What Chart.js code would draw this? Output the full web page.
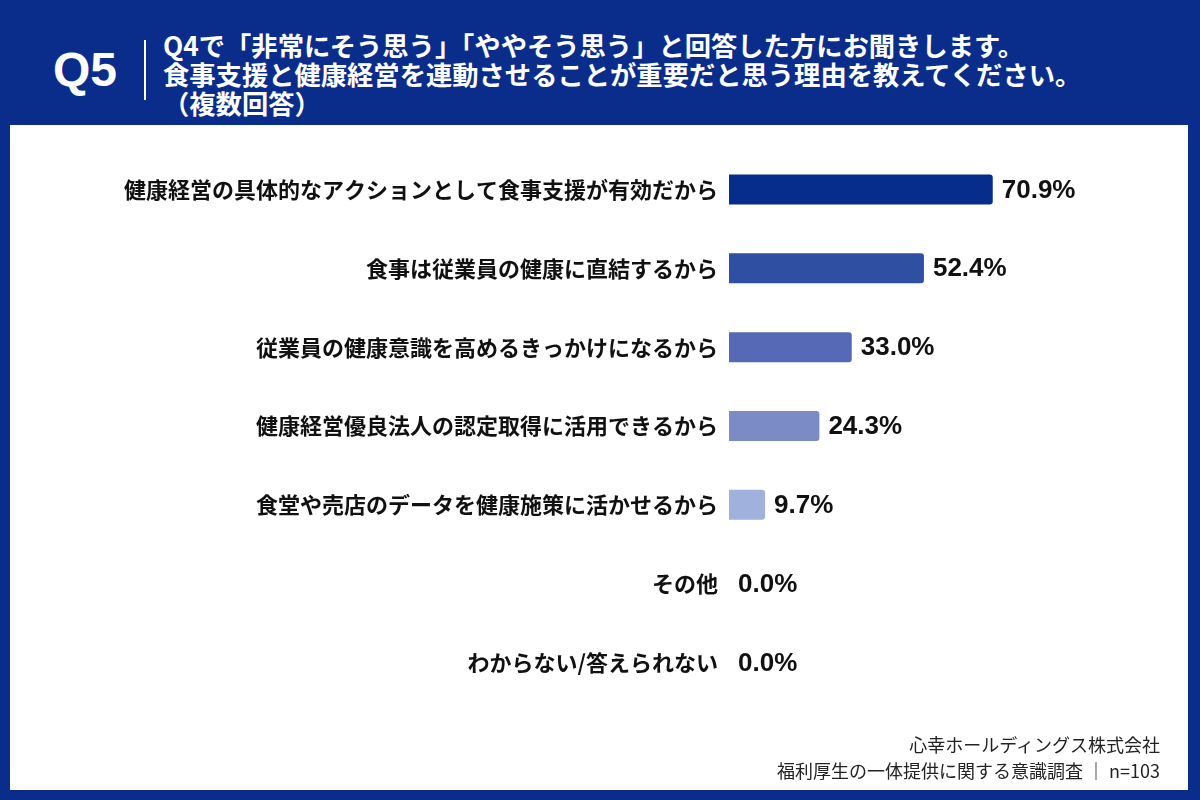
<!DOCTYPE html>
<html lang="ja">
<head>
<meta charset="UTF-8">
<title>Q5</title>
<script src="https://cdn.jsdelivr.net/npm/chart.js"></script>
<style>
  html, body { margin: 0; padding: 0; }
  body {
    width: 1200px; height: 800px; background: #0a2d8c; position: relative; overflow: hidden;
    font-family: "Noto Sans CJK JP", "Noto Sans", sans-serif;
  }
  #qno { position: absolute; left: 53px; top: 42px; color: #fff; font: bold 48px "Liberation Sans", Arial, sans-serif; }
  #bar { position: absolute; left: 144px; top: 40px; width: 2px; height: 60px; background: #fff; }
  #title { position: absolute; left: 163px; top: 30px; color: #fff; font-weight: bold; font-size: 26.3px; line-height: 29px; }
  #panel { position: absolute; left: 10px; top: 125px; width: 1178px; height: 665px; background: #fff; }
  #credit { position: absolute; right: 40px; top: 731px; text-align: right; color: #222; font-size: 18px; line-height: 26px; }
</style>
</head>
<body>
<div id="qno">Q5</div>
<div id="bar"></div>
<div id="title">Q4で「非常にそう思う」「ややそう思う」と回答した方にお聞きします。<br>食事支援と健康経営を連動させることが重要だと思う理由を教えてください。<br>（複数回答）</div>
<div id="panel"><canvas id="chart" width="1178" height="665"></canvas></div>
<div id="credit">心幸ホールディングス株式会社<br>福利厚生の一体提供に関する意識調査 ｜ n=103</div>
<script>
const categories = [
  '健康経営の具体的なアクションとして食事支援が有効だから',
  '食事は従業員の健康に直結するから',
  '従業員の健康意識を高めるきっかけになるから',
  '健康経営優良法人の認定取得に活用できるから',
  '食堂や売店のデータを健康施策に活かせるから',
  'その他',
  'わからない/答えられない'
];
const values = [70.9, 52.4, 33.0, 24.3, 9.7, 0.0, 0.0];
const barColors = ['#062c8c', '#2f4fa3', '#5569b7', '#7b8bc6', '#a1b1de', '#a1b1de', '#a1b1de'];

const valueLabels = {
  id: 'valueLabels',
  afterDatasetsDraw(chart) {
    const ctx = chart.ctx;
    const meta = chart.getDatasetMeta(0);
    ctx.save();
    ctx.font = 'bold 26px "Liberation Sans", Arial, sans-serif';
    ctx.fillStyle = '#111';
    ctx.textBaseline = 'middle';
    meta.data.forEach((bar, i) => {
      ctx.fillText(values[i].toFixed(1) + '%', bar.x + 9, bar.y + 1);
    });
    ctx.restore();
  }
};

new Chart(document.getElementById('chart'), {
  type: 'bar',
  data: {
    labels: categories,
    datasets: [{
      data: values,
      backgroundColor: barColors,
      borderRadius: 3,
      borderSkipped: 'start',
      barPercentage: 0.76,
      categoryPercentage: 0.5
    }]
  },
  options: {
    indexAxis: 'y',
    responsive: false,
    animation: false,
    layout: { padding: { top: 25, bottom: 88, right: 87, left: 0 } },
    plugins: { legend: { display: false }, tooltip: { enabled: false } },
    scales: {
      x: { display: false, min: 0, max: 100 },
      y: {
        grid: { display: false },
        border: { display: false },
        ticks: {
          color: '#111',
          padding: 3,
          font: { family: '"Noto Sans CJK JP"', weight: 'bold', size: 22 }
        },
        afterFit(scale) { scale.width = 719; }
      }
    }
  },
  plugins: [valueLabels]
});
</script>
</body>
</html>
